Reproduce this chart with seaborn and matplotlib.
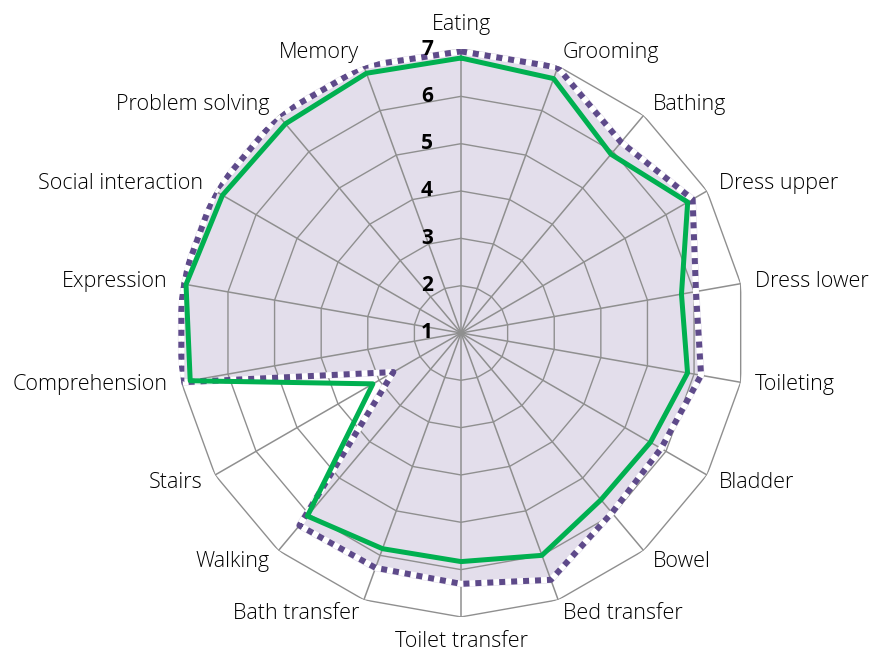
import numpy as np
import pandas as pd
import seaborn as sns
import matplotlib.pyplot as plt

categories = ["Eating", "Grooming", "Bathing", "Dress upper", "Dress lower", "Toileting",
              "Bladder", "Bowel", "Bed transfer", "Toilet transfer", "Bath transfer",
              "Walking", "Stairs", "Comprehension", "Expression", "Social interaction",
              "Problem solving", "Memory"]
green_vals = [6.81, 6.72, 5.93, 6.53, 5.73, 5.86, 5.62, 5.60, 6.00, 5.83, 5.85,
              6.05, 3.15, 6.81, 6.90, 6.82, 6.77, 6.84]
purple_vals = [6.95, 6.97, 6.26, 6.65, 6.04, 6.15, 5.88, 5.96, 6.55, 6.30, 6.28,
               6.31, 2.65, 7.00, 7.00, 7.00, 7.00, 7.00]
ticks = [1, 2, 3, 4, 5, 6, 7]

sns.set_theme(style="white")
plt.rcParams["font.family"] = ["Open Sans", "DejaVu Sans"]

n = len(categories)
theta = np.linspace(0, 2 * np.pi, n, endpoint=False)
theta_c = np.append(theta, 2 * np.pi)

df = pd.DataFrame({
    "theta": theta_c,
    "green": green_vals + green_vals[:1],
    "purple": purple_vals + purple_vals[:1],
})

fig = plt.figure(figsize=(8.83, 6.56), dpi=100)
ax = fig.add_axes([0.2005, 0.0595, 0.6432, 0.8658], projection="polar")
ax.set_theta_offset(np.pi / 2)
ax.set_theta_direction(-1)
ax.set_ylim(1, 7)
ax.grid(False)
ax.spines["polar"].set_visible(False)
ax.set_xticks([])
ax.set_yticks([])
ax.set_facecolor("none")

# polygon grid
grid_col = "#8f8f8f"
for r in ticks[1:]:
    ax.plot(theta_c, [r] * len(theta_c), color=grid_col, lw=1.0, zorder=1)
for t in theta:
    ax.plot([t, t], [1, 7], color=grid_col, lw=1.1, zorder=1)

# filled area
ax.fill(df["theta"], df["purple"], color="#e3deeb", zorder=0)
ax.plot(df["theta"], df["purple"], color="#e3deeb", lw=5, zorder=0.5)

sns.lineplot(data=df, x="theta", y="purple", ax=ax, sort=False, estimator=None,
             color="#5e4a8a", lw=4.3, linestyle=(0, (1, 1)), gapcolor="white",
             dash_capstyle="butt", zorder=3)
sns.lineplot(data=df, x="theta", y="green", ax=ax, sort=False, estimator=None,
             color="#00b050", lw=3.6, zorder=4)
ax.set_xlabel("")
ax.set_ylabel("")
ax.set_ylim(1, 7)

# radial tick labels
for r in ticks:
    ax.annotate(str(r), xy=(0, r), xytext=(-24.5, 0), textcoords="offset points",
                ha="center", va="center", fontsize=15, fontweight="bold",
                color="black", zorder=5)

# category labels
for t, lab in zip(theta, categories):
    s = np.sin(t)
    if s > 0.01:
        ha, va = "left", "center"
    elif s < -0.01:
        ha, va = "right", "center"
    else:
        ha = "center"
        va = "bottom" if np.cos(t) > 0 else "top"
    ax.text(t, 7.3, lab, ha=ha, va=va, fontsize=15.5, fontweight="light",
            color="black")

fig.savefig("out.png", dpi=100)
